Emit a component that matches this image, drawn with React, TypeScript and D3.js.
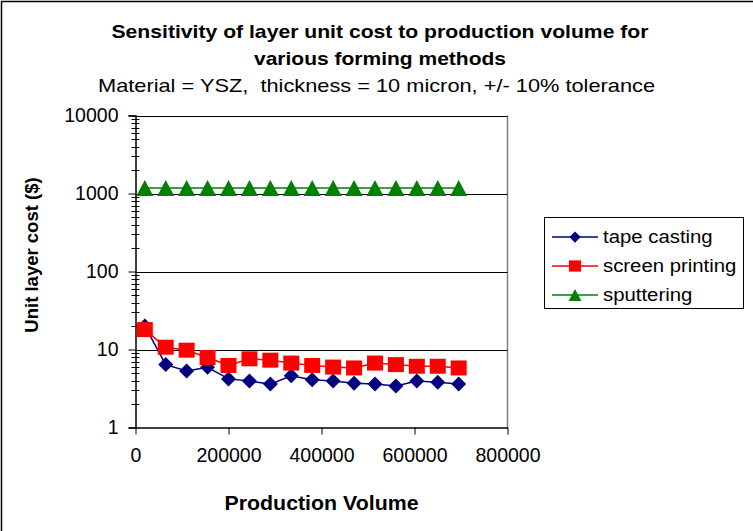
import React, { useEffect, useRef } from 'react';
import * as d3 from 'd3';

// production volume for each point
const volumes = [20000, 65000, 110000, 155000, 200000, 245000, 290000, 335000, 380000, 425000, 470000, 515000, 560000, 605000, 650000, 695000];
const tapeCasting = [20, 6.4, 5.3, 5.9, 4.2, 3.95, 3.6, 4.6, 4.1, 3.95, 3.7, 3.6, 3.4, 3.95, 3.8, 3.6];
const screenPrinting = [18, 10.7, 9.8, 7.9, 6.25, 7.6, 7.3, 6.7, 6.25, 5.95, 5.8, 6.7, 6.4, 6.1, 6.1, 5.8];
const sputtering = [1180, 1180, 1180, 1180, 1180, 1180, 1180, 1180, 1180, 1180, 1180, 1180, 1180, 1180, 1180, 1180];

const xTicks = [0, 200000, 400000, 600000, 800000];
const yTicks = [1, 10, 100, 1000, 10000];

const seriesNames = ['tape casting', 'screen printing', 'sputtering'];
const seriesColors = ['#000080', '#FF0000', '#008000'];

const FONT = '"Liberation Sans", Arial, sans-serif';

// marker shapes (half width, half height), drawn at scale k
const diamond = (w: number, h: number) => ({
  draw(ctx: d3.Path, k: number) {
    ctx.moveTo(0, -h * k); ctx.lineTo(w * k, 0); ctx.lineTo(0, h * k); ctx.lineTo(-w * k, 0); ctx.closePath();
  }
});
const square = (w: number, h: number) => ({
  draw(ctx: d3.Path, k: number) {
    ctx.rect(-w * k, -h * k, 2 * w * k, 2 * h * k);
  }
});
const triangle = (w: number, h: number) => ({
  draw(ctx: d3.Path, k: number) {
    ctx.moveTo(0, -h * k); ctx.lineTo(w * k, h * k); ctx.lineTo(-w * k, h * k); ctx.closePath();
  }
});
const seriesSymbols = [diamond(7.5, 7.5), square(8, 7.5), triangle(8.5, 8)];

const App = () => {
  const svgRef = useRef<SVGSVGElement>(null);

  useEffect(() => {
    const svg = d3.select(svgRef.current);
    svg.selectAll('*').remove();

    const left = 135.5, right = 507.5, top = 115.5, bottom = 427.5;

    const x = d3.scaleLinear().domain([0, 800000]).range([left, right]);
    const y = d3.scaleLog().domain([1, 10000]).range([bottom, top]);

    // outer frame (top + left only visible)
    svg.append('path')
      .attr('d', 'M1.5,531 V1.5 H753')
      .attr('fill', 'none')
      .attr('stroke', '#000')
      .attr('stroke-width', 1.5);

    // titles
    const titles = svg.append('g').attr('font-family', FONT).attr('text-anchor', 'middle').attr('fill', '#000');
    titles.append('text').attr('x', 380).attr('y', 38).attr('font-size', 18.5).attr('font-weight', 'bold')
      .attr('textLength', 537).attr('lengthAdjust', 'spacingAndGlyphs')
      .text('Sensitivity of layer unit cost to production volume for');
    titles.append('text').attr('x', 380).attr('y', 65).attr('font-size', 18.5).attr('font-weight', 'bold')
      .attr('textLength', 252).attr('lengthAdjust', 'spacingAndGlyphs')
      .text('various forming methods');
    titles.append('text').attr('x', 376.5).attr('y', 92).attr('font-size', 18.5).attr('xml:space', 'preserve')
      .attr('textLength', 557).attr('lengthAdjust', 'spacingAndGlyphs')
      .text('Material = YSZ,  thickness = 10 micron, +/- 10% tolerance');

    // right border of plot area
    svg.append('line')
      .attr('x1', right).attr('x2', right).attr('y1', top).attr('y2', bottom)
      .attr('stroke', '#808080').attr('stroke-width', 1.5);

    // gridlines
    svg.append('g').selectAll('line')
      .data(yTicks.filter(d => d > 1))
      .enter().append('line')
      .attr('x1', left).attr('x2', right)
      .attr('y1', d => Math.round(y(d)) + 0.5).attr('y2', d => Math.round(y(d)) + 0.5)
      .attr('stroke', '#000').attr('stroke-width', 1);

    // y axis minor ticks
    const minor: number[] = [];
    for (let p = 1; p < 10000; p *= 10) {
      for (let m = 2; m < 10; m++) minor.push(p * m);
    }
    svg.append('g').selectAll('line')
      .data(minor)
      .enter().append('line')
      .attr('x1', left - 4).attr('x2', left + 4)
      .attr('y1', d => Math.round(y(d)) + 0.5).attr('y2', d => Math.round(y(d)) + 0.5)
      .attr('stroke', '#000');

    // y axis
    const yAxis = svg.append('g')
      .attr('transform', `translate(${left},0)`)
      .call(d3.axisLeft(y).tickValues(yTicks).tickFormat(d3.format('d')).tickSize(7).tickPadding(10));
    yAxis.select('.domain').attr('stroke-width', 1.5);
    yAxis.selectAll('text').attr('font-family', FONT).attr('font-size', 19.5).attr('fill', '#000');

    // x axis
    const xAxis = svg.append('g')
      .attr('transform', `translate(0,${bottom})`)
      .call(d3.axisBottom(x).tickValues(xTicks).tickFormat(d3.format('d')).tickSize(7).tickSizeOuter(0).tickPadding(14));
    xAxis.select('.domain').attr('stroke-width', 1.5);
    xAxis.selectAll('text').attr('font-family', FONT).attr('font-size', 19.5).attr('fill', '#000');

    // axis titles
    svg.append('text')
      .attr('x', (left + right) / 2).attr('y', 510)
      .attr('text-anchor', 'middle').attr('font-family', FONT).attr('font-size', 19.5).attr('font-weight', 'bold')
      .attr('textLength', 194).attr('lengthAdjust', 'spacingAndGlyphs')
      .text('Production Volume');
    svg.append('text')
      .attr('transform', 'translate(38,255) rotate(-90)')
      .attr('text-anchor', 'middle').attr('font-family', FONT).attr('font-size', 18.5).attr('font-weight', 'bold')
      .text('Unit layer cost ($)');

    // series
    const allSeries = [tapeCasting, screenPrinting, sputtering];
    const line = d3.line<number>()
      .x((d, i) => x(volumes[i]))
      .y(d => y(d));

    allSeries.forEach((vals, k) => {
      const g = svg.append('g');
      g.append('path')
        .datum(vals)
        .attr('fill', 'none')
        .attr('stroke', seriesColors[k])
        .attr('stroke-width', 1.5)
        .attr('d', line);
      g.selectAll('path.pt')
        .data(vals)
        .enter().append('path')
        .attr('class', 'pt')
        .attr('transform', (d, i) => `translate(${x(volumes[i])},${y(d)})`)
        .attr('d', d3.symbol().type(seriesSymbols[k] as d3.SymbolType).size(1)())
        .attr('fill', seriesColors[k]);
    });

    // legend
    const legend = svg.append('g');
    legend.append('rect')
      .attr('x', 544.5).attr('y', 217.5).attr('width', 199).attr('height', 91)
      .attr('fill', '#fff').attr('stroke', '#000').attr('stroke-width', 1);
    const legendY = d3.scalePoint().domain(seriesNames).range([237, 295]);
    seriesNames.forEach((name, k) => {
      const ly = legendY(name) as number;
      legend.append('line')
        .attr('x1', 552).attr('x2', 598).attr('y1', ly).attr('y2', ly)
        .attr('stroke', seriesColors[k]).attr('stroke-width', 1.5);
      legend.append('path')
        .attr('transform', `translate(575,${ly})`)
        .attr('d', d3.symbol().type(seriesSymbols[k] as d3.SymbolType).size(0.75)())
        .attr('fill', seriesColors[k]);
      legend.append('text')
        .attr('transform', `translate(603,${ly}) scale(1.1,1)`)
        .attr('dy', '0.35em')
        .attr('font-family', FONT).attr('font-size', 18.5)
        .text(name);
    });
  }, []);

  return (
    <svg
      ref={svgRef}
      width={753}
      height={531}
      style={{ position: 'absolute', left: 0, top: 0, background: '#fff' }}
    />
  );
};

export default App;
